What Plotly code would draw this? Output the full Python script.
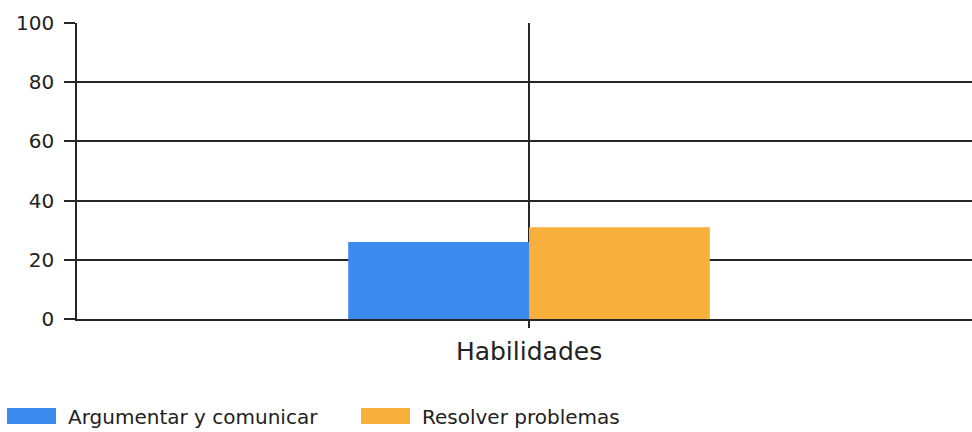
import plotly.graph_objects as go

# Data
categories = ["Habilidades"]
series_names = ["Argumentar y comunicar", "Resolver problemas"]
series_values = [[26], [31]]
series_colors = ["#3D8AEE", "#F8B03C"]
y_ticks = [0, 20, 40, 60, 80, 100]

FONT = "DejaVu Sans"
LINE = "#262626"

W, H = 972, 432
M_L, M_R, M_T, M_B = 77, 0, 23, 113

fig = go.Figure()
for name, vals, col in zip(series_names, series_values, series_colors):
    fig.add_trace(go.Bar(x=categories, y=vals, name=name,
                         marker=dict(color=col, line=dict(width=0)),
                         showlegend=False))

# Custom legend row below the plot (wide swatches + labels)
plot_w = W - M_L - M_R
plot_h = H - M_T - M_B
def px_x(p):
    return (p - M_L) / plot_w
def px_y(q):
    return (H - M_B - q) / plot_h

legend_x = [7, 361]
for i, (name, col) in enumerate(zip(series_names, series_colors)):
    x0 = legend_x[i]
    fig.add_shape(type="rect", xref="paper", yref="paper",
                  x0=px_x(x0), x1=px_x(x0 + 49), y0=px_y(424), y1=px_y(408),
                  fillcolor=col, line=dict(width=0), layer="above")
    fig.add_annotation(xref="paper", yref="paper", x=px_x(x0 + 59), y=px_y(417),
                       text=name, showarrow=False, xanchor="left", yanchor="middle",
                       font=dict(family=FONT, size=20, color="#222"))

fig.update_layout(
    width=W, height=H,
    margin=dict(l=M_L, r=M_R, t=M_T, b=M_B, pad=0),
    paper_bgcolor="white", plot_bgcolor="white",
    barmode="group", bargap=0.6, bargroupgap=0,
    showlegend=False,
    font=dict(family=FONT, color="#222"),
)
fig.update_xaxes(
    type="category", range=[-0.5, 0.49],
    showgrid=True, gridcolor=LINE, gridwidth=1.5,
    showline=True, linecolor=LINE, linewidth=1.5,
    ticks="outside", ticklen=7, tickcolor=LINE, tickwidth=1.5,
    ticklabelstandoff=2,
    tickfont=dict(family=FONT, size=25, color="#222"),
    zeroline=False,
)
fig.update_yaxes(
    range=[0, 100], tickvals=y_ticks,
    showgrid=True, gridcolor=LINE, gridwidth=1.5,
    showline=True, linecolor=LINE, linewidth=1.5,
    ticks="outside", ticklen=11, tickcolor=LINE, tickwidth=1.5,
    ticklabelstandoff=6,
    tickfont=dict(family=FONT, size=20, color="#222"),
    zeroline=False,
)

fig.write_html("out.html")
